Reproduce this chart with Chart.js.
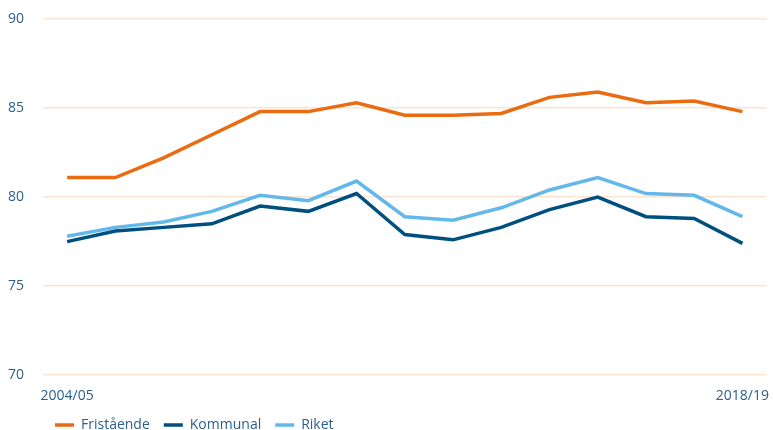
<!DOCTYPE html>
<html>
<head>
<meta charset="utf-8">
<script src="https://cdn.jsdelivr.net/npm/chart.js@4"></script>
<style>
  html, body { margin: 0; padding: 0; background: #fff; }
  #wrap { width: 773px; height: 430px; }
</style>
</head>
<body>
<div id="wrap"><canvas id="chart"></canvas></div>
<script>
// data
var years = ['2004/05', '2005/06', '2006/07', '2007/08', '2008/09', '2009/10', '2010/11',
  '2011/12', '2012/13', '2013/14', '2014/15', '2015/16', '2016/17', '2017/18', '2018/19'];
var fristaende = [81.1, 81.1, 82.2, 83.5, 84.8, 84.8, 85.3, 84.6, 84.6, 84.7, 85.6, 85.9, 85.3, 85.4, 84.8];
var kommunal = [77.5, 78.1, 78.3, 78.5, 79.5, 79.2, 80.2, 77.9, 77.6, 78.3, 79.3, 80.0, 78.9, 78.8, 77.4];
var riket = [77.8, 78.3, 78.6, 79.2, 80.1, 79.8, 80.9, 78.9, 78.7, 79.4, 80.4, 81.1, 80.2, 80.1, 78.9];
var yTicks = [70, 75, 80, 85, 90];

var textColor = '#2a5f8f';
var gridColor = '#fde3d2';

function line(label, data, color) {
  return {
    label: label,
    data: data,
    borderColor: color,
    backgroundColor: color,
    borderWidth: 3.5,
    pointRadius: 0,
    tension: 0
  };
}

// nudge the legend, like the original
var legendShift = {
  id: 'legendShift',
  afterLayout: function(chart) {
    chart.legend.left += 33;
    chart.legend.top -= 4;
  }
};

var ctx = document.getElementById('chart').getContext('2d');
new Chart(ctx, {
  type: 'line',
  data: {
    labels: years,
    datasets: [
      line('Fristående', fristaende, '#ea6b10'),
      line('Kommunal', kommunal, '#00507f'),
      line('Riket', riket, '#63b8eb')
    ]
  },
  plugins: [legendShift],
  options: {
    responsive: true,
    maintainAspectRatio: false,
    animation: false,
    layout: { padding: { top: 19, right: -5, left: 8, bottom: -16 } },
    scales: {
      x: {
        offset: true,
        grid: { display: false },
        border: { display: false },
        ticks: {
          autoSkip: false,
          maxRotation: 0,
          color: textColor,
          font: { family: 'Open Sans', size: 14 },
          padding: 4,
          callback: function(v, i) {
            return (i === 0 || i === years.length - 1) ? years[i] : '';
          }
        }
      },
      y: {
        min: 70,
        max: 90,
        afterBuildTicks: function(axis) {
          axis.ticks = yTicks.map(function(v) { return { value: v }; });
        },
        afterFit: function(axis) {
          axis.width = 35;
        },
        grid: { color: gridColor, lineWidth: 1.5, drawTicks: false },
        border: { display: false },
        ticks: {
          color: textColor,
          font: { family: 'Open Sans', size: 14 },
          crossAlign: 'far',
          padding: 0
        }
      }
    },
    plugins: {
      legend: {
        position: 'bottom',
        align: 'start',
        labels: {
          usePointStyle: true,
          pointStyle: 'line',
          pointStyleWidth: 19,
          color: textColor,
          font: { family: 'Open Sans', size: 14 },
          padding: 14
        }
      },
      tooltip: { enabled: false }
    }
  }
});
</script>
</body>
</html>
